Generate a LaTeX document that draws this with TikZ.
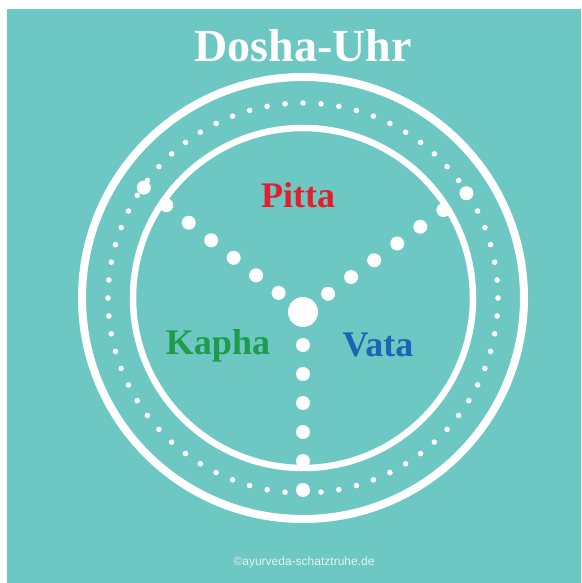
\documentclass[tikz,border=0pt]{standalone}
\usepackage{fontspec}
\setmainfont{Liberation Serif}
\setsansfont{Liberation Sans}
\usepackage{tikz}
\usetikzlibrary{calc}
\usepackage{xcolor}
\definecolor{teal}{HTML}{6DC7C3}
\definecolor{pitta}{HTML}{E31E2D}
\definecolor{kapha}{HTML}{1E9B4B}
\definecolor{vata}{HTML}{1C64B4}
\def\Ringstep{5.2941}

\begin{document}
\begin{tikzpicture}[x=1pt, y=1pt,
    dosha/.style={font=\bfseries\fontsize{36}{36}\selectfont, anchor=base},
    dot/.style={white}]
        \useasboundingbox (0,0) rectangle (581,583);
        \fill[white] (0,0) rectangle (581,583);
        \fill[teal] (7,0) rectangle (581,574);
        \coordinate (O) at (303,285);
        \coordinate (C) at (303,271);
        % rings
        \draw[white, line width=8pt] (O) circle(221);
        \draw[white, line width=6.5pt] (O) circle(170);
        \foreach \i in {0,...,67}
          \fill[dot] ($(O)+({270+\i*\Ringstep}:195)$) circle(2.8);
        % spokes
        \foreach \a in {142,36}
          \foreach \k in {0,...,6}
            \fill[dot] ($(C)+(\a:{31+28.5*\k})$) circle(7);
        \foreach \k in {0,...,5}
          \fill[dot] ($(C)+(270:{33+29*\k})$) circle(7);
        \fill[dot] (C) circle(15);
        % labels
        \node[white, font=\bfseries\fontsize{46}{46}\selectfont, anchor=base] (title) at (303,521) {Dosha-Uhr};
        \node[dosha, pitta] (pitta) at (298,375) {Pitta};
        \node[dosha, kapha] (kapha) at (218,228) {Kapha};
        \node[dosha, vata] (vata) at (378,226) {Vata};
        \node[white!80!teal, font=\sffamily\fontsize{12}{12}\selectfont, anchor=base] (credit) at (304,17) {©ayurveda-schatztruhe.de};
      \end{tikzpicture}
\end{document}
